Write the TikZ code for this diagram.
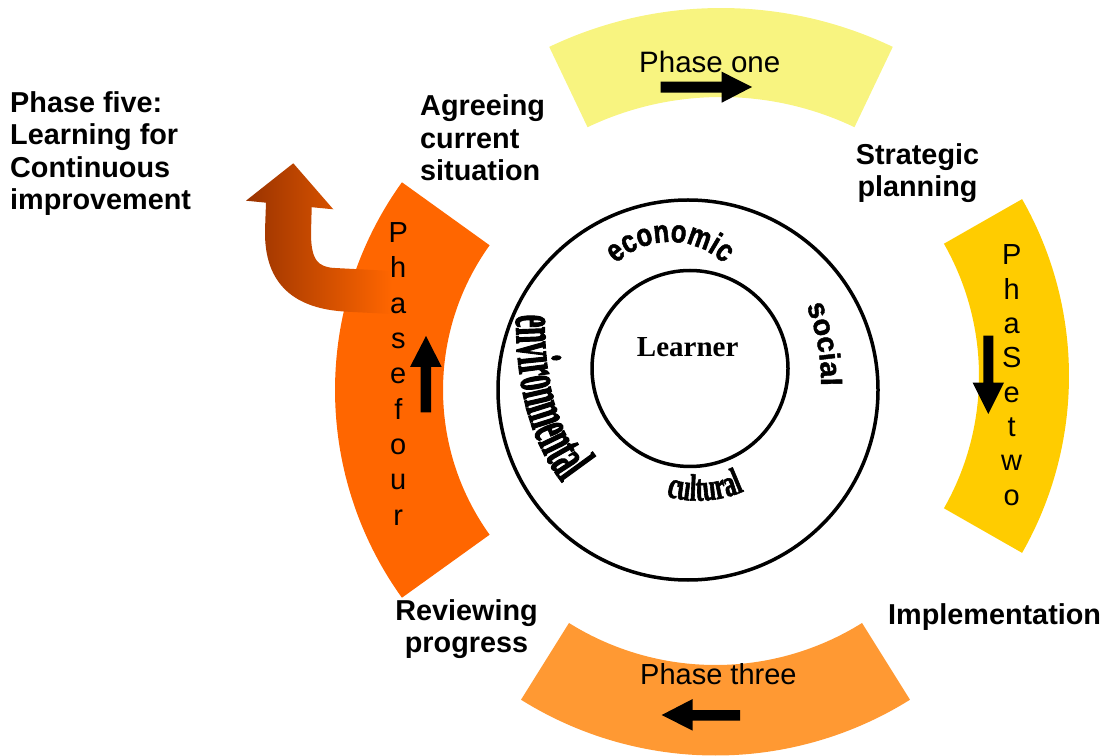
\documentclass[tikz,border=0pt]{standalone}
\usepackage{fontspec}
\setmainfont{Liberation Sans}
\newfontfamily\serifbold{Liberation Serif}
\newfontfamily\econfont[FakeStretch=0.8,FakeBold=1.5]{Liberation Sans}
\newfontfamily\socfont[FakeBold=1.5]{Liberation Sans}
\newfontfamily\envfont[FakeStretch=0.46,FakeBold=1.5]{Liberation Serif}
\newfontfamily\culfont[FakeStretch=0.62,FakeBold=1.5]{Liberation Serif}
\usetikzlibrary{decorations.text}
\definecolor{phone}{RGB}{248,244,128}
\definecolor{phtwo}{RGB}{255,204,0}
\definecolor{phthree}{RGB}{255,153,51}
\definecolor{phfour}{RGB}{255,102,0}
\definecolor{arrowdark}{RGB}{153,51,0}
\newcommand\stackL[1]{\vtop{\halign{##\hfil\cr#1\crcr}}}
\newcommand\stackC[1]{\vtop{\halign{\hfil##\hfil\cr#1\crcr}}}
\newcommand\lbl{\fontsize{28.8}{32.4}\selectfont\bfseries}
\newcommand\econstyle{\econfont\bfseries\fontsize{32}{32}\selectfont}
\newcommand\socstyle{\socfont\bfseries\fontsize{29}{29}\selectfont}
\newcommand\envstyle{\envfont\bfseries\fontsize{62}{62}\selectfont}
\newcommand\culstyle{\culfont\bfseries\fontsize{38}{38}\selectfont}
\newcommand\sector[7]{\fill[#1] ([shift={(#2,#3)}]#6:#4pt) arc[start angle=#6, end angle=#7, radius=#4pt] -- ([shift={(#2,#3)}]#7:#5pt) arc[start angle=#7, end angle=#6, radius=#5pt] -- cycle;}
\begin{document}
\begin{tikzpicture}[x=1pt,y=1pt,
  plain/.style={anchor=base west, inner sep=0pt},
  ring/.style={draw, circle, line width=3.5pt, inner sep=0pt}]
\useasboundingbox (0,0) rectangle (1107,755);
% phase sectors
\sector{phone}{721}{348}{399}{310}{64.5}{115.5}
\sector{phtwo}{712}{379}{357}{267}{-29.7}{29.7}
\sector{phthree}{715.5}{366.5}{367}{276.5}{238}{302}
\sector{phfour}{691}{365}{356}{248}{144.3}{215.7}
% phase five curved arrow
\shade[left color=arrowdark, right color=phfour] (392,441) -- (346.7,443.3) .. controls (295,446) and (264,470) .. (265,525) -- (266,552.3) -- (246,554.3) -- (293.3,591.7) -- (333.3,545.7) -- (311.7,547.8) -- (311,521.7) .. controls (311,495) and (318,487.7) .. (335,487) -- (392,484) -- cycle;
% black direction arrows
\fill (660.7,673.3) -- (721.7,673.3) -- (721.7,683.3) -- (752,668) -- (721.7,652.3) -- (721.7,662.3) -- (660.7,662.3) -- cycle;
\fill (983.3,419.3) -- (993.3,419.3) -- (993.3,372.3) -- (1004,372.3) -- (988.3,341) -- (972.7,372.3) -- (983.3,372.3) -- cycle;
\fill (740,45) -- (692.7,45) -- (692.7,56) -- (661.7,40) -- (692.7,24.3) -- (692.7,34.3) -- (740,34.3) -- cycle;
\fill (420.7,342.7) -- (431,342.7) -- (431,388) -- (441.7,388) -- (426,419) -- (410,388) -- (420.7,388) -- cycle;
% phase texts
\node[plain] (p1) at (639,682.3) {\fontsize{29.5}{34}\selectfont Phase one};
\node[anchor=base, inner sep=0pt] (p2) at (1011.7,490) {\fontsize{29}{34.3}\selectfont\stackC{P\cr h\cr a\cr S\cr e\cr t\cr w\cr o}};
\node[plain] (p3) at (640,71) {\fontsize{29}{34}\selectfont Phase three};
\node[anchor=base, inner sep=0pt] (p4) at (398.3,512.3) {\fontsize{29}{35.3}\selectfont\stackC{P\cr h\cr a\cr s\cr e\cr f\cr o\cr u\cr r}};
% circles
\node[ring, minimum size=380pt] (outer) at (688,365) {};
\node[ring, minimum size=196pt] (inner) at (690,386.5) {};
\node[plain] (learner) at (636.7,398.3) {\serifbold\bfseries\fontsize{29}{29}\selectfont Learner};
% word art
\path[decorate, decoration={text along path, text align=center, text={|\econstyle|economic}}] ([shift={(670,435)}]137:78pt) arc[start angle=137, end angle=43, radius=78pt];
\path[decorate, decoration={text along path, text align=center, text={|\socstyle|social}}] (804,455) .. controls (815,430) and (822,400) .. (821,363);
\path[decorate, decoration={text along path, text={|\envstyle|environmental}}] (516,440) .. controls (516,370) and (528,310) .. (572,260);
\path[decorate, decoration={text along path, text align=center, text={|\culstyle|cultural}}] (658,262) .. controls (685,250) and (725,252) .. (752,268);
% labels
\node[plain] (five) at (10,642.7) {\lbl\stackL{Phase five:\cr Learning for\cr Continuous\cr improvement}};
\node[plain] (agree) at (420,639) {\lbl\stackL{Agreeing\cr current\cr situation}};
\node[anchor=base, inner sep=0pt] (strat) at (917.5,590.7) {\lbl\stackC{Strategic\cr planning}};
\node[anchor=base, inner sep=0pt] (review) at (466.5,135) {\lbl\stackC{Reviewing\cr progress}};
\node[plain] (impl) at (888,131) {\lbl Implementation};
\end{tikzpicture}
\end{document}
